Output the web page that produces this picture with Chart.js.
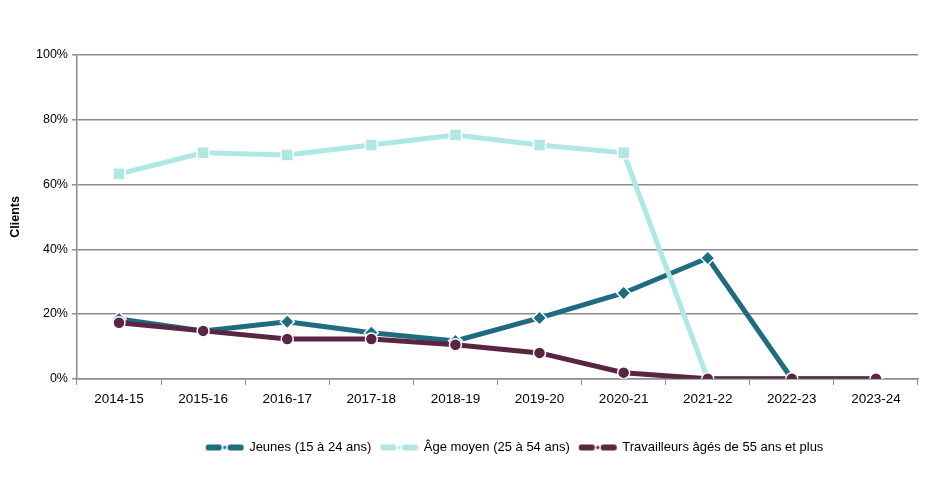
<!DOCTYPE html>
<html><head><meta charset="utf-8">
<script src="https://cdn.jsdelivr.net/npm/chart.js@4"></script>
<style>html,body{margin:0;padding:0;background:#fff;}#wrap{width:946px;height:477px;}</style>
</head><body><div id="wrap"><canvas id="c" width="946" height="477"></canvas></div>
<script>
const categories = ['2014-15','2015-16','2016-17','2017-18','2018-19','2019-20','2020-21','2021-22','2022-23','2023-24'];
const jeunes = [18.5, 14.8, 17.6, 14.2, 11.7, 18.8, 26.5, 37.3, 0, 0];
const ageMoyen = [63.3, 69.8, 69.1, 72.2, 75.3, 72.2, 69.8, 0, 0, 0];
const travailleurs = [17.3, 14.8, 12.3, 12.3, 10.5, 8.0, 1.9, 0, 0, 0];
const seriesNames = ['Jeunes (15 à 24 ans)', 'Âge moyen (25 à 54 ans)', 'Travailleurs âgés de 55 ans et plus'];
const yTicks = [0, 20, 40, 60, 80, 100];

const colJ = '#1F6B80', colA = '#AEE8E3', colT = '#5A2540';
function legendIcon(color){
  const c = document.createElement('canvas');
  c.width = 40; c.height = 8;
  const x = c.getContext('2d');
  x.fillStyle = color;
  x.beginPath(); x.roundRect ? x.roundRect(1,1,16,6,2.5) : x.rect(1,1,16,6); x.fill();
  x.beginPath(); x.roundRect ? x.roundRect(23,1,16,6,2.5) : x.rect(23,1,16,6); x.fill();
  x.beginPath(); x.arc(20,4,2.2,0,Math.PI*2); x.fillStyle = color; x.fill();
  x.lineWidth = 1; x.strokeStyle = '#fff'; x.stroke();
  return c;
}
const icons = [legendIcon(colJ), legendIcon(colA), legendIcon(colT)];
Chart.defaults.font.family = '"Liberation Sans", Arial, sans-serif';
Chart.defaults.color = '#000';
const shiftLegend = {
  id: 'shiftLegend',
  afterLayout(chart) { const l = chart.legend; if (l) { l.left += 54; l.right += 54; } }
};
new Chart(document.getElementById('c'), {
  type: 'line',
  data: {
    labels: categories,
    datasets: [
      {label: seriesNames[0], data: jeunes, borderColor: colJ, backgroundColor: colJ, borderWidth: 5,
       pointStyle: 'rectRot', pointRadius: 7, pointBorderColor: '#fff', pointBorderWidth: 1.5, order: 3, tension: 0},
      {label: seriesNames[1], data: ageMoyen, borderColor: colA, backgroundColor: colA, borderWidth: 5,
       pointStyle: 'rect', pointRadius: (ctx) => ctx.raw === 0 ? 0 : 8.5, pointBorderColor: '#fff', pointBorderWidth: 1.5, order: 2, tension: 0},
      {label: seriesNames[2], data: travailleurs, borderColor: colT, backgroundColor: colT, borderWidth: 5,
       pointStyle: 'circle', pointRadius: 6, pointBorderColor: '#fff', pointBorderWidth: 1.5, order: 1, tension: 0}
    ]
  },
  plugins: [shiftLegend],
  options: {
    responsive: false, animation: false,
    layout: {padding: {top: 55, right: 28, left: 4, bottom: 13}},
    plugins: {
      tooltip: {enabled: false},
      legend: {
        position: 'bottom',
        labels: {
          usePointStyle: true, pointStyleWidth: 36, boxHeight: 8, padding: 10,
          font: {size: 13},
          sort: (a, b) => a.datasetIndex - b.datasetIndex,
          generateLabels: (chart) => chart.data.datasets.map((d, i) => ({
            text: d.label, pointStyle: icons[i], fillStyle: d.borderColor, strokeStyle: d.borderColor,
            lineWidth: 0, datasetIndex: i, hidden: false, fontColor: '#000'
          }))
        }
      }
    },
    scales: {
      x: {
        offset: true,
        afterFit: (s) => { s.height += 18; },
        grid: {offset: true, drawOnChartArea: false, drawTicks: true, tickLength: 6, color: '#8c8c8c'},
        border: {color: '#8c8c8c', width: 1.5},
        ticks: {font: {size: 13.5}, padding: 6, maxRotation: 0}
      },
      y: {
        min: 0, max: 100,
        afterBuildTicks: (s) => { s.ticks = yTicks.map(v => ({value: v})); },
        grid: {color: '#8c8c8c', lineWidth: 1.5, tickLength: 5},
        border: {color: '#8c8c8c', width: 1.5},
        ticks: {font: {size: 12.5}, padding: 4, callback: (v) => v + '%'},
        title: {display: true, text: 'Clients', font: {size: 12.5, weight: 'bold'}, padding: {bottom: 9}}
      }
    }
  }
});
</script></body></html>
